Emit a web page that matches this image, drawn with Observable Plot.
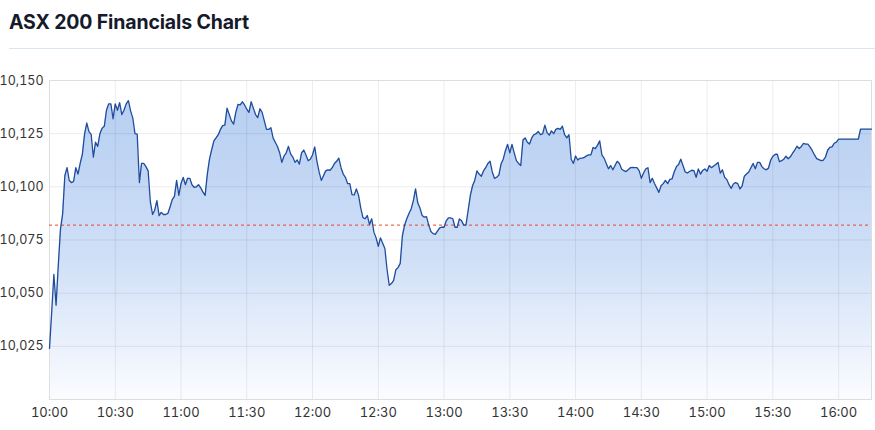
<!DOCTYPE html>
<html>
<head>
<meta charset="utf-8">
<script src="https://cdn.jsdelivr.net/npm/d3@7"></script>
<script src="https://cdn.jsdelivr.net/npm/@observablehq/plot@0.6"></script>
<style>
  html, body { margin: 0; padding: 0; background: #fff; width: 875px; height: 430px; overflow: hidden; }
  #title { position: absolute; left: 9px; top: 10px; font-family: Inter, "Noto Sans", sans-serif; font-weight: 700; font-size: 19.5px; color: #161a2b; letter-spacing: -0.15px; }
  #sep { position: absolute; left: 9px; top: 48px; width: 866px; height: 1px; background: #dbe5f0; }
  #chart { position: absolute; left: 0; top: 55px; }
  #chart svg { overflow: visible; }
</style>
</head>
<body>
<div id="title">ASX 200 Financials Chart</div>
<div id="sep"></div>
<div id="chart"></div>
<script>
// ---- Data (one value per minute from the open) ----
const startTime = "10:00";
const endTime = "16:15";
const values = [
10024,10041,10058.8,10044.3,10063,10080,10087.3,10105.2,10109,10103,
10102,10102.5,10109,10106,10111,10115.4,10124.8,10130,10126,10124.7,
10114,10121,10119,10125,10127.5,10128.5,10136,10139,10139,10132,
10139,10136,10139.6,10134,10136,10139,10140.5,10135.7,10132.3,10125,
10124.8,10102,10111,10111,10109.5,10107.5,10093,10087,10089,10093.5,
10086.5,10088,10087,10087,10087.5,10090.5,10094,10095.5,10103,10096,
10101.5,10104.4,10101,10104,10104,10101,10099.8,10100,10101,10099.5,
10097.5,10096,10106,10113,10117.5,10121.6,10123,10124.5,10127,10128.8,
10129,10137,10134,10131,10129.5,10135,10138.8,10138.5,10140,10138.5,
10136.5,10135,10140,10137,10134,10132.5,10136.7,10135,10131,10127,
10127,10127.8,10123,10121,10119,10116,10111.5,10114.5,10116,10119,
10115.5,10114,10111.5,10112.6,10110.7,10116,10117.3,10115,10112.3,10113,
10115,10118.8,10112,10107,10103,10105.2,10107.5,10108,10107.8,10109,
10111,10112,10113.5,10109,10106,10104.5,10101.5,10101.5,10096.3,10096.2,
10099,10096,10090,10085.5,10085,10086.5,10082.3,10085,10078.7,10076,
10072,10076,10073.5,10071,10061,10053.7,10054.5,10056,10061,10062,
10064,10077,10082,10085,10087.5,10089.6,10093.5,10099,10092.5,10090,
10086.5,10085.7,10086,10082,10079,10078,10077.7,10079.2,10080.7,10081,
10081,10084,10085.4,10085.4,10085,10081,10081,10084.9,10084,10082,
10082,10089,10096,10100.5,10103,10107.5,10106,10105,10107.5,10109,
10111,10112,10107,10104,10104.5,10105.5,10110.7,10113,10117,10120,
10116,10120,10116,10112.3,10111,10110,10122,10123,10121,10120.1,
10123,10124.5,10125,10126,10124.5,10125,10129,10125.5,10124.3,10126.3,
10125,10127,10127.5,10127,10128.5,10124.5,10123,10124.5,10113,10111,
10114.5,10112.6,10113.4,10113.5,10113.8,10114.6,10115,10115,10118.5,10118,
10119.5,10121.6,10115,10113.5,10111,10108.5,10110,10108,10110,10112,
10111,10108.4,10107.6,10107.2,10108,10109,10109.1,10109,10109,10107.6,
10104,10106.5,10108.4,10109,10102,10104,10101.6,10099.5,10097.4,10100.5,
10101.5,10103,10101.5,10103.5,10103.7,10107,10109.5,10110.5,10113,10110,
10107,10106.5,10107.2,10107.8,10107.6,10104.5,10108.4,10106,10107.7,10108.4,
10107.3,10110,10109,10109.8,10110.5,10111.5,10106.5,10108,10104.5,10103.4,
10101,10099.3,10101.3,10102,10101.5,10099,10100.5,10105,10106,10107,
10109,10111,10108.5,10111.5,10111.5,10109.5,10108.5,10108,10108.8,10112.5,
10114.4,10115.2,10115.4,10111.8,10112.3,10113,10114.4,10113.2,10114.1,10115.8,
10117.3,10119.1,10118,10119,10120.4,10120.1,10120.1,10118.7,10117,10115,
10113.3,10112.8,10112.3,10112.5,10114,10117.2,10118.6,10118.8,10120.5,10121,
10122.4,10122.4,10122.4,10122.4,10122.4,10122.4,10122.4,10122.4,10122.4,10122.4,
10127.1,10127.1,10127.1,10127.1,10127.1,10127.1
];
const previousClose = 10082;
const yTicks = [10025, 10050, 10075, 10100, 10125, 10150];
const yDomain = [10000, 10150];
const xTickLabels = ["10:00","10:30","11:00","11:30","12:00","12:30","13:00","13:30","14:00","14:30","15:00","15:30","16:00"];

// ---- Build table ----
const parseT = d3.utcParse("%H:%M");
const t0 = parseT(startTime);
const data = values.map((v, i) => ({ time: new Date(t0.getTime() + i * 60000), value: v }));
const xTicks = xTickLabels.map(parseT);

const W = 875, H = 375;
const mTop = 25, mBottom = 31, mLeft = 49, mRight = 4;

const gradientDefs = () => {
  const ns = "http://www.w3.org/2000/svg";
  const defs = document.createElementNS(ns, "defs");
  const g = document.createElementNS(ns, "linearGradient");
  g.setAttribute("id", "areaFill");
  g.setAttribute("gradientUnits", "userSpaceOnUse");
  g.setAttribute("x1", 0); g.setAttribute("x2", 0);
  g.setAttribute("y1", mTop); g.setAttribute("y2", H - mBottom);
  [["0%", "#b4cdf1"], ["55%", "#cfdff7"], ["100%", "#fbfcff"]].forEach(([o, c]) => {
    const s = document.createElementNS(ns, "stop");
    s.setAttribute("offset", o); s.setAttribute("stop-color", c);
    g.appendChild(s);
  });
  defs.appendChild(g);
  return defs;
};

const chart = Plot.plot({
  width: W,
  height: H,
  marginTop: mTop,
  marginBottom: mBottom,
  marginLeft: mLeft,
  marginRight: mRight,
  style: { fontFamily: "Inter, 'Noto Sans', sans-serif", fontSize: "13px", color: "#333", background: "#fff" },
  x: { type: "utc", domain: [parseT(startTime), parseT(endTime)] },
  y: { domain: yDomain },
  marks: [
    gradientDefs,
    Plot.areaY(data, { x: "time", y1: yDomain[0], y2: "value", fill: "url(#areaFill)" }),
    Plot.gridY(yTicks, { stroke: "#000", strokeOpacity: 0.075 }),
    Plot.gridX(xTicks, { stroke: "#000", strokeOpacity: 0.075 }),
    Plot.frame({ stroke: "#dedede" }),
    Plot.ruleY([previousClose], { stroke: "#f0432a", strokeWidth: 1, strokeDasharray: "3,3" }),
    Plot.lineY(data, { x: "time", y: "value", stroke: "#1f4c9c", strokeWidth: 1.3 }),
    Plot.axisY({ ticks: yTicks, tickSize: 0, tickPadding: 6, tickFormat: d3.format(","), label: null, fill: "#333", fontSize: 12.5 }),
    Plot.axisX({ ticks: xTicks, tickSize: 0, tickPadding: 8, tickFormat: d3.utcFormat("%H:%M"), label: null, fill: "#333" })
  ]
});
document.getElementById("chart").appendChild(chart);
</script>
</body>
</html>
